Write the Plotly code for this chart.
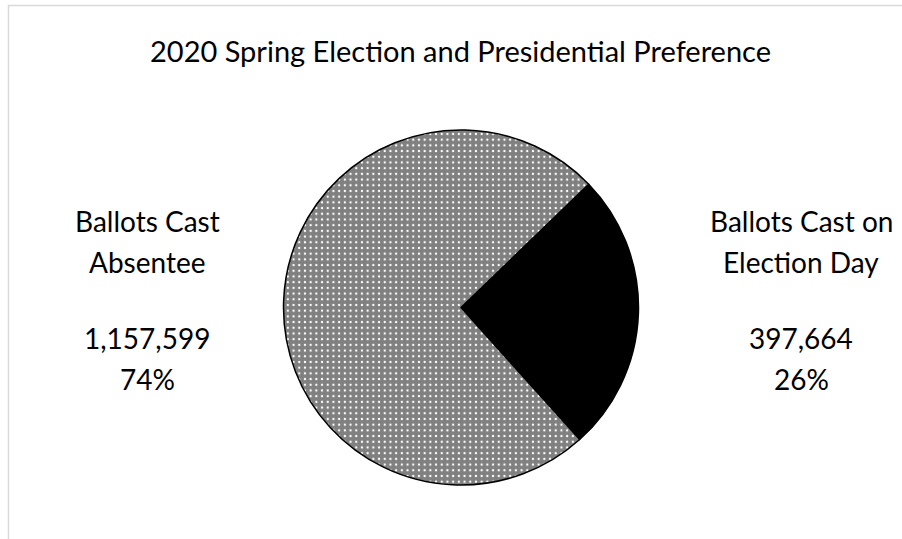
import plotly.graph_objects as go

# Data
labels = ["Ballots Cast on Election Day", "Ballots Cast Absentee"]
values = [397664, 1157599]
label_lines = [["Ballots Cast on", "Election Day"], ["Ballots Cast", "Absentee"]]
title_text = "2020 Spring Election and Presidential Preference"

W, H = 902, 539
FONT = "Lato"
total = sum(values)

fig = go.Figure()
fig.add_trace(go.Pie(
    labels=labels,
    values=values,
    sort=False,
    direction="clockwise",
    rotation=46,
    textinfo="none",
    hoverinfo="label+value+percent",
    showlegend=False,
    domain=dict(x=[283 / W, 639 / W], y=[1 - 485 / H, 1 - 130 / H]),
    marker=dict(
        colors=["#000000", "#808080"],
        line=dict(color="#000000", width=1.5),
        pattern=dict(
            shape=["", "."],
            fgcolor=["#000000", "#ffffff"],
            bgcolor=["#000000", "#808080"],
            size=5.7,
            solidity=0.13,
            fillmode="replace",
        ),
    ),
))

annotations = []
# label positions (x center in px, per side)
centers = [801, 147]
line_y = [221, 262, 338, 379]
for i, (v, lines) in enumerate(zip(values, label_lines)):
    texts = lines + [f"{v:,}", f"{round(100 * v / total)}%"]
    for t, py in zip(texts, line_y):
        annotations.append(dict(
            text=t, x=centers[i] / W, y=1 - py / H, xref="paper", yref="paper",
            xanchor="center", yanchor="middle", showarrow=False,
            font=dict(family=FONT, size=28, color="#000000"),
        ))

annotations.append(dict(
    text=title_text, x=460.5 / W, y=1 - 51 / H, xref="paper", yref="paper",
    xanchor="center", yanchor="middle", showarrow=False,
    font=dict(family=FONT, size=29, color="#000000"),
))

fig.update_layout(
    width=W, height=H,
    margin=dict(l=0, r=0, t=0, b=0),
    paper_bgcolor="#ffffff",
    plot_bgcolor="#ffffff",
    annotations=annotations,
    shapes=[dict(
        type="rect", xref="paper", yref="paper",
        x0=8.5 / W, x1=1.2, y0=-0.2, y1=1 - 5.5 / H,
        line=dict(color="#d9d9d9", width=1.5),
        fillcolor="rgba(0,0,0,0)", layer="below",
    )],
)

fig.write_html("out.html")
